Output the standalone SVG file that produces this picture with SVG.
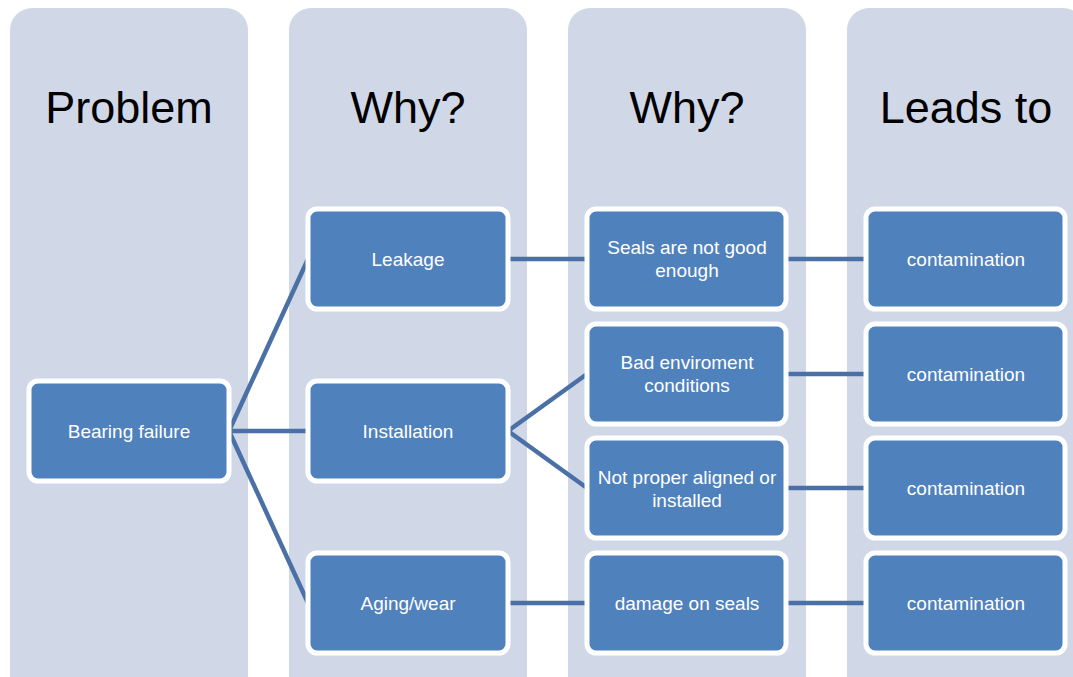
<svg xmlns="http://www.w3.org/2000/svg" width="1073" height="677" viewBox="0 0 1073 677">
<style>
.col{fill:#D0D8E8}
.title{font-family:"Liberation Sans",Arial,sans-serif;font-size:45px;fill:#000;text-anchor:middle}
.box{fill:#4F81BD;stroke:#FFFFFF;stroke-width:5}
.lbl{font-family:"Liberation Sans",Arial,sans-serif;font-size:19px;fill:#FFFFFF;text-anchor:middle}
.conn{stroke:#4A70A5;stroke-width:4.5;fill:none}
</style>
<rect width="1073" height="677" fill="#FFFFFF"/>
<g id="columns">
<rect class="col" x="10" y="8" width="238" height="700" rx="22"/>
<rect class="col" x="289" y="8" width="238" height="700" rx="22"/>
<rect class="col" x="568" y="8" width="238" height="700" rx="22"/>
<rect class="col" x="847" y="8" width="238" height="700" rx="22"/>
<text class="title" x="129" y="123">Problem</text>
<text class="title" x="408" y="123">Why?</text>
<text class="title" x="687" y="123">Why?</text>
<text class="title" x="966" y="123">Leads to</text>
</g>
<g id="connectors">
<line class="conn" x1="229" y1="431" x2="308" y2="259"/>
<line class="conn" x1="229" y1="431" x2="308" y2="431"/>
<line class="conn" x1="229" y1="431" x2="308" y2="603"/>
<line class="conn" x1="508" y1="259" x2="587" y2="259"/>
<line class="conn" x1="508" y1="431" x2="587" y2="374"/>
<line class="conn" x1="508" y1="431" x2="587" y2="488"/>
<line class="conn" x1="508" y1="603" x2="587" y2="603"/>
<line class="conn" x1="786" y1="259" x2="866" y2="259"/>
<line class="conn" x1="786" y1="374" x2="866" y2="374"/>
<line class="conn" x1="786" y1="488" x2="866" y2="488"/>
<line class="conn" x1="786" y1="603" x2="866" y2="603"/>
</g>
<g id="n-bearing"><rect class="box" x="29" y="381" width="200" height="100" rx="9"/><text class="lbl" x="129" y="438">Bearing failure</text></g>
<g id="n-leakage"><rect class="box" x="308" y="209" width="200" height="100" rx="9"/><text class="lbl" x="408" y="266">Leakage</text></g>
<g id="n-installation"><rect class="box" x="308" y="381" width="200" height="100" rx="9"/><text class="lbl" x="408" y="438">Installation</text></g>
<g id="n-aging"><rect class="box" x="308" y="553" width="200" height="100" rx="9"/><text class="lbl" x="408" y="610">Aging/wear</text></g>
<g id="n-seals"><rect class="box" x="587" y="209" width="199" height="100" rx="9"/><text class="lbl" x="687" y="254">Seals are not good</text><text class="lbl" x="687" y="277">enough</text></g>
<g id="n-badenv"><rect class="box" x="587" y="324" width="199" height="100" rx="9"/><text class="lbl" x="687" y="369">Bad enviroment</text><text class="lbl" x="687" y="392">conditions</text></g>
<g id="n-notproper"><rect class="box" x="587" y="438" width="199" height="100" rx="9"/><text class="lbl" x="687" y="484">Not proper aligned or</text><text class="lbl" x="687" y="507">installed</text></g>
<g id="n-damage"><rect class="box" x="587" y="553" width="199" height="100" rx="9"/><text class="lbl" x="687" y="610">damage on seals</text></g>
<g id="n-cont1"><rect class="box" x="866" y="209" width="199" height="100" rx="9"/><text class="lbl" x="966" y="266">contamination</text></g>
<g id="n-cont2"><rect class="box" x="866" y="324" width="199" height="100" rx="9"/><text class="lbl" x="966" y="381">contamination</text></g>
<g id="n-cont3"><rect class="box" x="866" y="438" width="199" height="100" rx="9"/><text class="lbl" x="966" y="495">contamination</text></g>
<g id="n-cont4"><rect class="box" x="866" y="553" width="199" height="100" rx="9"/><text class="lbl" x="966" y="610">contamination</text></g>
</svg>
